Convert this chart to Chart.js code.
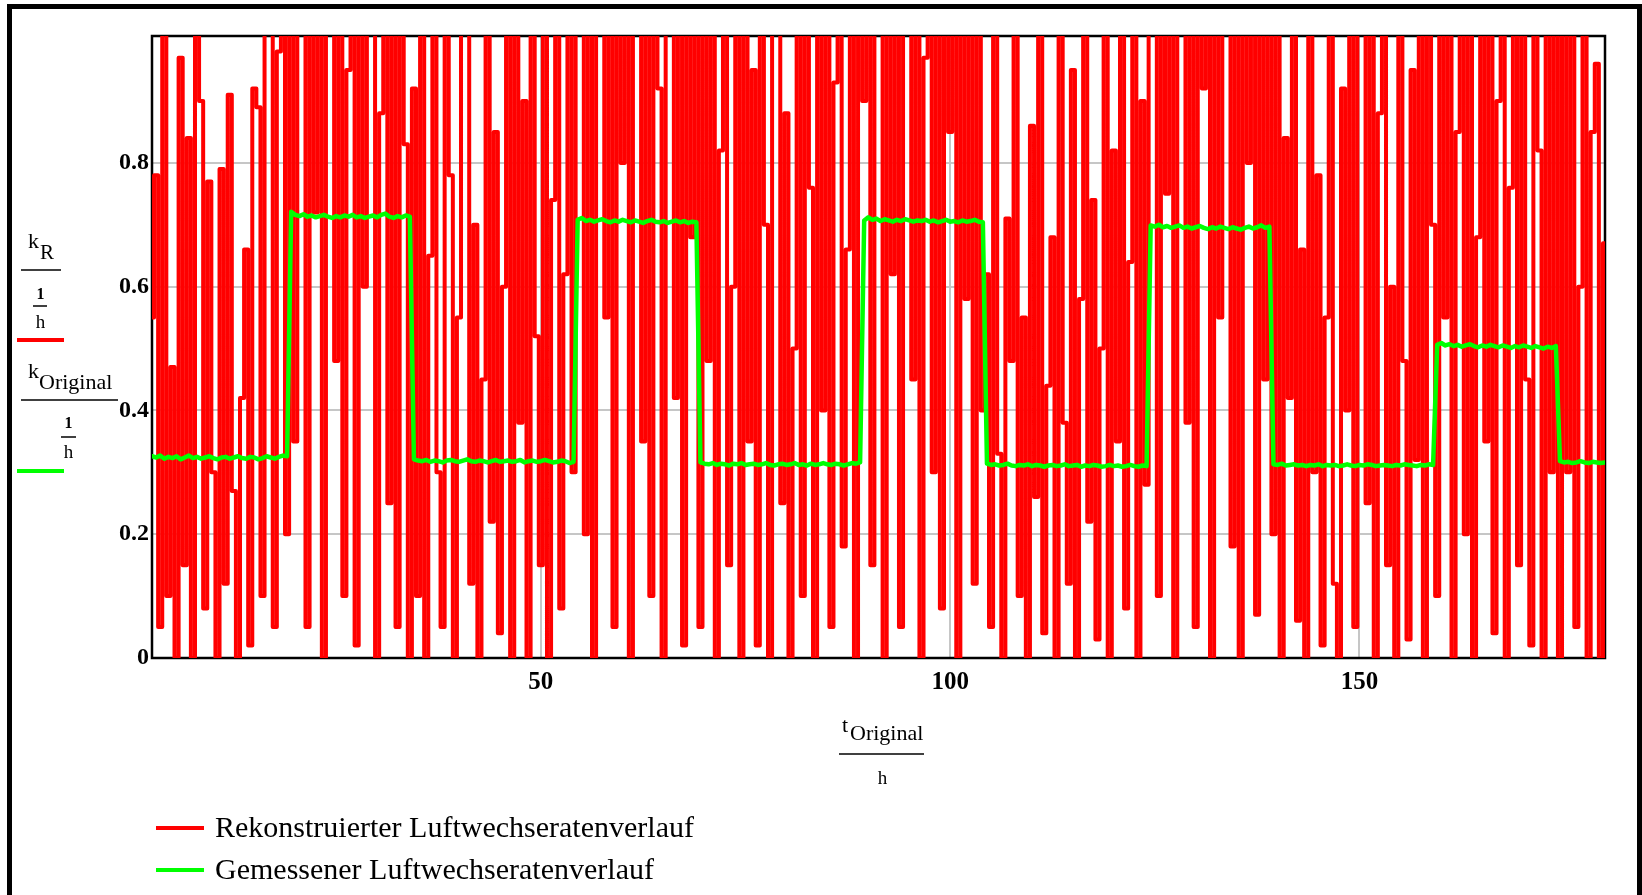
<!DOCTYPE html>
<html>
<head>
<meta charset="utf-8">
<title>Luftwechselrate</title>
<script src="https://cdn.jsdelivr.net/npm/chart.js@4.4.1/dist/chart.umd.min.js"></script>
<style>
    html, body { margin: 0; padding: 0; background: #fff; overflow: hidden; }
    #wrap { position: relative; width: 1642px; height: 895px; }
    #frame {
        position: absolute; left: 7px; top: 4px; width: 1635px; height: 1000px;
        border: 5px solid #000; box-sizing: border-box; pointer-events: none;
    }
</style>
</head>
<body>
<div id="wrap">
    <canvas id="myChart" width="1642" height="895"></canvas>
    <div id="frame"></div>
</div>
<script>
// sampling of t_Original / h
const T_START = 2.5;
const T_STEP = 0.5;

// k_R / (1/h), reconstructed (values above the top of the plot are clipped)
const kR = [
    // 2.5 .. 19
    0.55, 0.78, 0.05, 1.2, 0.10, 0.47, 0.00, 0.97, 0.15, 0.84, 0.00, 1.2, 0.90, 0.08, 0.77, 0.30, 0.00,
    0.79, 0.12, 0.91, 0.27, 0.00, 0.42, 0.66, 0.02, 0.92, 0.89, 0.10, 1.2, 1.2, 0.05, 0.98, 1.2, 0.20,
    // 19.5 .. 34
    1.2, 0.35, 1.2, 1.2, 0.05, 1.2, 0.72, 1.2, 0.00, 1.2, 1.2, 0.48, 1.2, 0.10, 0.95,
    1.2, 0.02, 1.2, 0.60, 1.2, 1.2, 0.00, 0.88, 1.2, 0.25, 1.2, 0.05, 1.2, 0.83, 0.00,
    // 34.5 .. 54
    0.92, 0.10, 1.2, 0.00, 0.65, 1.2, 0.30, 0.05, 1.2, 0.78, 0.00, 0.55, 1.2, 1.2, 0.12, 0.70, 0.00, 0.45, 1.2, 0.22,
    0.85, 0.04, 0.60, 1.2, 0.00, 1.2, 0.38, 0.90, 0.00, 1.2, 0.52, 0.15, 1.2, 0.00, 0.74, 1.2, 0.08, 0.62, 1.2, 0.30,
    // 54.5 .. 69
    1.2, 1.2, 0.20, 1.2, 0.00, 1.2, 1.2, 0.55, 1.2, 0.05, 1.2, 0.80, 1.2, 0.00, 1.2,
    1.2, 0.35, 1.2, 0.10, 1.2, 0.92, 0.00, 1.2, 1.2, 0.42, 1.2, 0.02, 1.2, 0.68, 1.2,
    // 69.5 .. 89
    0.05, 1.2, 0.48, 1.2, 0.00, 0.82, 1.2, 0.15, 0.60, 1.2, 0.00, 1.2, 0.35, 0.95, 0.02, 1.2, 0.70, 0.00, 1.2, 1.2,
    0.25, 0.88, 0.00, 0.50, 1.2, 0.10, 1.2, 0.76, 0.00, 1.2, 0.40, 1.2, 0.05, 0.93, 1.2, 0.18, 0.66, 1.2, 0.00, 1.2,
    // 89.5 .. 104
    0.90, 1.2, 0.15, 1.2, 1.2, 0.00, 1.2, 0.62, 1.2, 0.05, 1.2, 1.2, 0.45, 1.2, 0.00,
    0.97, 1.2, 0.30, 1.2, 0.08, 1.2, 0.85, 1.2, 0.00, 1.2, 0.58, 1.2, 0.12, 1.2, 0.40,
    // 104.5 .. 124
    0.62, 0.05, 1.2, 0.33, 0.00, 0.71, 0.48, 1.2, 0.10, 0.55, 0.00, 0.86, 0.26, 1.2, 0.04, 0.44, 0.68, 0.00, 1.2, 0.38,
    0.12, 0.95, 0.00, 0.58, 1.2, 0.22, 0.74, 0.03, 0.50, 1.2, 0.00, 0.82, 0.35, 1.2, 0.08, 0.64, 1.2, 0.00, 0.90, 0.28,
    // 124.5 .. 139
    1.2, 1.2, 0.10, 1.2, 0.75, 1.2, 0.00, 1.2, 1.2, 0.38, 1.2, 0.05, 1.2, 0.92, 1.2,
    0.00, 1.2, 0.55, 1.2, 1.2, 0.18, 1.2, 0.00, 1.2, 0.80, 1.2, 0.07, 1.2, 0.45, 1.2,
    // 139.5 .. 159
    0.20, 1.2, 0.00, 0.84, 0.42, 1.2, 0.06, 0.66, 0.00, 1.2, 0.30, 0.78, 0.02, 0.55, 1.2, 0.12, 0.00, 0.92, 0.40, 1.2,
    0.05, 1.2, 1.2, 0.25, 1.2, 0.00, 0.88, 1.2, 0.15, 0.60, 0.00, 1.2, 0.48, 0.03, 0.95, 0.32, 1.2, 0.00, 1.2, 0.70,
    // 159.5 .. 174
    0.10, 1.2, 0.55, 1.2, 0.00, 0.85, 1.2, 0.20, 1.2, 0.00, 0.68, 1.2, 0.35, 1.2, 0.04,
    0.90, 1.2, 0.00, 0.76, 1.2, 0.15, 1.2, 0.45, 0.02, 1.2, 0.82, 0.00, 1.2, 0.30, 1.2,
    // 174.5 .. 180
    0.00, 1.2, 0.30, 1.2, 0.05, 0.60, 1.2, 0.00, 0.85, 0.96, 0.00, 0.67
];

// k_Original / (1/h), measured
const kOriginal = [
    // 2.5 .. 19
    0.326, 0.324, 0.327, 0.322, 0.325, 0.323, 0.326, 0.321, 0.324, 0.327, 0.323, 0.325, 0.322, 0.324, 0.326, 0.323, 0.321,
    0.324, 0.325, 0.322, 0.324, 0.326, 0.323, 0.322, 0.325, 0.324, 0.321, 0.323, 0.326, 0.324, 0.322, 0.325, 0.327, 0.326,
    // 19.5 .. 34
    0.721, 0.716, 0.714, 0.717, 0.713, 0.715, 0.712, 0.714, 0.716, 0.713, 0.711, 0.714, 0.712, 0.715, 0.713,
    0.716, 0.712, 0.714, 0.711, 0.713, 0.715, 0.712, 0.716, 0.718, 0.713, 0.711, 0.714, 0.712, 0.715, 0.713,
    // 34.5 .. 54
    0.321, 0.319, 0.318, 0.320, 0.317, 0.319, 0.318, 0.316, 0.319, 0.320, 0.318, 0.317, 0.319, 0.321, 0.318, 0.317, 0.319, 0.318, 0.316, 0.318,
    0.320, 0.317, 0.318, 0.319, 0.317, 0.318, 0.320, 0.316, 0.318, 0.319, 0.317, 0.318, 0.320, 0.318, 0.316, 0.317, 0.319, 0.318, 0.315, 0.317,
    // 54.5 .. 69
    0.708, 0.711, 0.706, 0.708, 0.705, 0.707, 0.709, 0.706, 0.704, 0.707, 0.705, 0.708, 0.706, 0.704, 0.707,
    0.705, 0.703, 0.706, 0.708, 0.705, 0.704, 0.706, 0.703, 0.705, 0.707, 0.704, 0.706, 0.703, 0.705, 0.704,
    // 69.5 .. 89
    0.316, 0.314, 0.313, 0.315, 0.312, 0.314, 0.313, 0.311, 0.314, 0.313, 0.315, 0.312, 0.313, 0.314, 0.312, 0.313, 0.315, 0.312, 0.311, 0.313,
    0.314, 0.312, 0.313, 0.315, 0.312, 0.313, 0.311, 0.314, 0.312, 0.313, 0.315, 0.313, 0.312, 0.314, 0.313, 0.311, 0.313, 0.315, 0.314, 0.316,
    // 89.5 .. 104
    0.707, 0.712, 0.708, 0.710, 0.706, 0.709, 0.707, 0.705, 0.708, 0.706, 0.709, 0.707, 0.705, 0.707, 0.706,
    0.708, 0.705, 0.707, 0.704, 0.706, 0.708, 0.705, 0.706, 0.704, 0.707, 0.705, 0.706, 0.708, 0.705, 0.704,
    // 104.5 .. 124
    0.314, 0.312, 0.313, 0.311, 0.312, 0.314, 0.311, 0.310, 0.312, 0.311, 0.313, 0.310, 0.312, 0.311, 0.309, 0.311, 0.312, 0.310, 0.311, 0.313,
    0.310, 0.311, 0.312, 0.309, 0.311, 0.310, 0.312, 0.311, 0.309, 0.310, 0.312, 0.310, 0.311, 0.309, 0.310, 0.312, 0.310, 0.309, 0.311, 0.310,
    // 124.5 .. 139
    0.699, 0.697, 0.700, 0.696, 0.698, 0.695, 0.697, 0.699, 0.695, 0.697, 0.694, 0.696, 0.698, 0.695, 0.693,
    0.696, 0.694, 0.697, 0.695, 0.693, 0.696, 0.694, 0.692, 0.695, 0.697, 0.694, 0.696, 0.699, 0.695, 0.697,
    // 139.5 .. 159
    0.313, 0.312, 0.314, 0.311, 0.312, 0.313, 0.311, 0.312, 0.310, 0.312, 0.311, 0.313, 0.310, 0.312, 0.311, 0.312, 0.310, 0.311, 0.313, 0.311,
    0.310, 0.312, 0.311, 0.313, 0.312, 0.310, 0.311, 0.312, 0.311, 0.310, 0.312, 0.311, 0.313, 0.312, 0.311, 0.310, 0.312, 0.311, 0.313, 0.312,
    // 159.5 .. 174
    0.506, 0.509, 0.505, 0.507, 0.504, 0.506, 0.503, 0.505, 0.507, 0.504, 0.502, 0.505, 0.503, 0.506, 0.504,
    0.502, 0.505, 0.503, 0.501, 0.504, 0.502, 0.505, 0.503, 0.501, 0.504, 0.502, 0.500, 0.503, 0.501, 0.504,
    // 174.5 .. 180
    0.318, 0.316, 0.317, 0.315, 0.316, 0.318, 0.316, 0.315, 0.317, 0.316, 0.315, 0.316
];

const xTicks = [50, 100, 150];
const xTickLabels = ['50', '100', '150'];
const yTicks = [0, 0.2, 0.4, 0.6, 0.8];
const yTickLabels = ['0', '0.2', '0.4', '0.6', '0.8'];

const seriesLabels = ['Rekonstruierter Luftwechseratenverlauf', 'Gemessener Luftwechseratenverlauf'];
const seriesColors = ['rgb(255, 0, 0)', 'rgb(0, 255, 0)'];

const tOriginal = kR.map((_, i) => T_START + i * T_STEP);

const SERIF = '"Liberation Serif", "Times New Roman", serif';

// black frame round the plot area, under the curves
const plotBox = {
    id: 'plotBox',
    beforeDatasetsDraw(chart) {
        const a = chart.chartArea;
        const ctx = chart.ctx;
        ctx.save();
        ctx.strokeStyle = '#000';
        ctx.lineWidth = 2.5;
        ctx.strokeRect(a.left, a.top, a.right - a.left, a.bottom - a.top);
        ctx.restore();
    }
};

function hline(ctx, x1, x2, y, w, color) {
    ctx.beginPath();
    ctx.strokeStyle = color;
    ctx.lineWidth = w;
    ctx.moveTo(x1, y);
    ctx.lineTo(x2, y);
    ctx.stroke();
}

function txt(ctx, s, x, y, size, align, bold) {
    ctx.font = (bold ? 'bold ' : '') + size + 'px ' + SERIF;
    ctx.textAlign = align || 'left';
    ctx.fillText(s, x, y);
}

// Mathcad style axis titles and legend
const mathcadLabels = {
    id: 'mathcadLabels',
    afterDraw(chart) {
        const ctx = chart.ctx;
        const ds = chart.data.datasets;
        ctx.save();
        ctx.fillStyle = '#000';
        ctx.textBaseline = 'alphabetic';

        // y title: kR / (1/h)
        txt(ctx, 'k', 28, 248, 22);
        txt(ctx, 'R', 40, 259, 21);
        hline(ctx, 21, 61, 270, 1.5, '#000');
        txt(ctx, '1', 40.5, 299, 16, 'center', true);
        hline(ctx, 33, 47, 306, 1.5, '#000');
        txt(ctx, 'h', 40.5, 328, 19, 'center');
        hline(ctx, 17, 64, 340, 4, ds[0].borderColor);

        // y title: kOriginal / (1/h)
        txt(ctx, 'k', 28, 378, 22);
        txt(ctx, 'Original', 39, 389, 22);
        hline(ctx, 21, 118, 400, 1.5, '#000');
        txt(ctx, '1', 68.5, 428, 16, 'center', true);
        hline(ctx, 61, 76, 437, 1.5, '#000');
        txt(ctx, 'h', 68.5, 458, 19, 'center');
        hline(ctx, 17, 64, 471, 4, ds[1].borderColor);

        // x title: tOriginal / h
        txt(ctx, 't', 842, 732, 22);
        txt(ctx, 'Original', 850, 740, 22);
        hline(ctx, 839, 924, 754, 1.5, '#000');
        txt(ctx, 'h', 882.5, 784, 19, 'center');

        // legend
        ctx.textBaseline = 'middle';
        ds.forEach((d, i) => {
            const y = 828 + i * 42;
            hline(ctx, 156, 204, y, 4, d.borderColor);
            ctx.fillStyle = '#000';
            txt(ctx, d.label, 215, y + 1, 30);
        });
        ctx.restore();
    }
};

document.addEventListener('DOMContentLoaded', function () {
    const ctx = document.getElementById('myChart');
    Chart.defaults.font.family = SERIF;
    Chart.defaults.color = '#000';

    new Chart(ctx, {
        type: 'line',
        data: {
            datasets: [{
                label: seriesLabels[0],
                data: tOriginal.map((t, i) => ({ x: t, y: kR[i] })),
                borderColor: seriesColors[0],
                borderWidth: 4,
                borderJoinStyle: 'round',
                borderCapStyle: 'round',
                stepped: 'middle',
                pointRadius: 0,
                fill: false,
                clip: 0,
                order: 2
            }, {
                label: seriesLabels[1],
                data: tOriginal.map((t, i) => ({ x: t, y: kOriginal[i] })),
                borderColor: seriesColors[1],
                borderWidth: 4.5,
                borderJoinStyle: 'round',
                borderCapStyle: 'round',
                pointRadius: 0,
                tension: 0,
                fill: false,
                clip: 0,
                order: 1
            }]
        },
        options: {
            responsive: false,
            devicePixelRatio: 1,
            animation: false,
            events: [],
            layout: { padding: { left: 0, top: 36, right: 37, bottom: 0 } },
            plugins: {
                legend: { display: false },
                tooltip: { enabled: false }
            },
            scales: {
                x: {
                    type: 'linear',
                    min: T_START,
                    max: 180,
                    afterFit: (s) => { s.height = 237; },
                    afterBuildTicks: (s) => { s.ticks = xTicks.map(v => ({ value: v })); },
                    ticks: {
                        padding: 10,
                        maxRotation: 0,
                        font: { size: 25, weight: 'bold' },
                        callback: (v, i) => xTickLabels[i]
                    },
                    grid: { color: '#c6c6c6', lineWidth: 2, drawTicks: false },
                    border: { display: false }
                },
                y: {
                    type: 'linear',
                    min: 0,
                    max: 1.005,
                    afterFit: (s) => { s.width = 152; },
                    afterBuildTicks: (s) => { s.ticks = yTicks.map(v => ({ value: v })); },
                    ticks: {
                        padding: 3,
                        font: { size: 24, weight: 'bold' },
                        callback: (v, i) => yTickLabels[i]
                    },
                    grid: { color: '#c6c6c6', lineWidth: 2, drawTicks: false },
                    border: { display: false }
                }
            }
        },
        plugins: [plotBox, mathcadLabels]
    });
});
</script>
</body>
</html>
